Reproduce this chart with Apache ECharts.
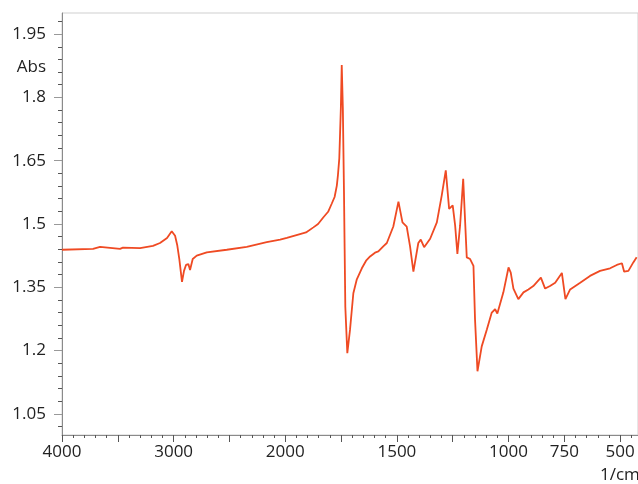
<!DOCTYPE html>
<html>
<head>
<meta charset="utf-8">
<script src="https://cdn.jsdelivr.net/npm/echarts@6/dist/echarts.min.js"></script>
<style>
    html, body { margin: 0; padding: 0; background: #fff; }
    #chart { width: 638px; height: 484px; }
</style>
</head>
<body>
<div id="chart"></div>
<script>
// IR spectrum, wavenumber (1/cm) vs absorbance
var wavenumbers = [4000, 3722, 3659, 3480, 3454, 3301, 3185, 3122, 3059, 3017, 2987, 2967, 2949, 2925, 2907, 2889, 2868, 2853, 2829, 2793,
    2703, 2524, 2345, 2166, 2046, 1993, 1934, 1907, 1874, 1853, 1829, 1808, 1792, 1779, 1769, 1764, 1758, 1751, 1747, 1742,
    1737, 1734, 1731, 1722, 1710, 1695, 1680, 1657, 1638, 1620, 1598, 1583, 1561, 1545, 1516, 1493, 1475, 1456, 1441, 1426,
    1404, 1393, 1378, 1351, 1321, 1299, 1281, 1266, 1250, 1239, 1229, 1217, 1203, 1187, 1172, 1157, 1150, 1139, 1120, 1097,
    1075, 1060, 1050, 1023, 1000, 990, 978, 956, 933, 911, 889, 855, 836, 814, 791, 761, 751, 745, 724, 679,
    635, 590, 545, 515, 492, 482, 463, 441, 426];
var absorbance = [1.439, 1.441, 1.446, 1.441, 1.444, 1.443, 1.448, 1.455, 1.467, 1.483, 1.472, 1.449, 1.417, 1.363, 1.389, 1.403, 1.405, 1.391, 1.417, 1.425,
    1.433, 1.439, 1.446, 1.457, 1.463, 1.467, 1.476, 1.480, 1.492, 1.500, 1.516, 1.529, 1.548, 1.564, 1.591, 1.616, 1.655, 1.774, 1.877, 1.774,
    1.578, 1.440, 1.304, 1.194, 1.249, 1.336, 1.368, 1.395, 1.413, 1.423, 1.432, 1.435, 1.447, 1.455, 1.494, 1.553, 1.504, 1.494, 1.447, 1.387,
    1.455, 1.463, 1.445, 1.465, 1.504, 1.568, 1.627, 1.536, 1.544, 1.496, 1.429, 1.496, 1.607, 1.421, 1.417, 1.401, 1.274, 1.151, 1.210, 1.250,
    1.290, 1.298, 1.288, 1.338, 1.397, 1.385, 1.347, 1.322, 1.338, 1.345, 1.353, 1.373, 1.347, 1.353, 1.361, 1.384, 1.345, 1.322, 1.345, 1.361,
    1.377, 1.389, 1.395, 1.403, 1.407, 1.387, 1.389, 1.409, 1.421];

var xLabels = [4000, 3000, 2000, 1500, 1000, 750, 500];
var xMajorTicks = [4000, 3500, 3000, 2500, 2000, 1750, 1500, 1250, 1000, 750, 500];
var yLabels = [1.05, 1.2, 1.35, 1.5, 1.65, 1.8, 1.95];
var yMinorTicks = [1.02, 1.05, 1.08, 1.11, 1.14, 1.17, 1.2, 1.23, 1.26, 1.29, 1.32, 1.35, 1.38, 1.41, 1.44, 1.47,
    1.5, 1.53, 1.56, 1.59, 1.62, 1.65, 1.68, 1.71, 1.74, 1.77, 1.8, 1.83, 1.86, 1.89, 1.92, 1.95, 1.98];

// the x axis is compressed 2:1 above 2000 1/cm
function pos(w) {
    return w >= 2000 ? (4000 - w) / 2 : 3000 - w;
}
function wn(p) {
    return p <= 1000 ? 4000 - 2 * p : 3000 - p;
}

var xMinor = [];
for (var p = 0; p <= 2550; p += 50) xMinor.push(p);

var font = { fontFamily: 'Open Sans', fontSize: 17, color: '#222' };

var option = {
    animation: false,
    grid: {
        left: 62,
        right: 0,
        top: 13,
        bottom: 49,
        show: true,
        borderColor: '#cfcfcf',
        borderWidth: 1
    },
    xAxis: [
        {
            type: 'value',
            min: 0,
            max: pos(420),
            position: 'bottom',
            axisLine: { show: true, lineStyle: { color: '#8a8a8a', width: 1 } },
            axisTick: { show: true, length: 3, customValues: xMinor, lineStyle: { color: '#555' } },
            axisLabel: { show: false },
            splitLine: { show: false }
        },
        {
            type: 'value',
            min: 0,
            max: pos(420),
            position: 'bottom',
            axisLine: { show: false },
            axisTick: { show: true, length: 7, customValues: xMajorTicks.map(pos), lineStyle: { color: '#555' } },
            axisLabel: Object.assign({
                customValues: xLabels.map(pos),
                margin: 9,
                formatter: function (v) { return String(Math.round(wn(v))); }
            }, font),
            splitLine: { show: false }
        }
    ],
    yAxis: [
        {
            type: 'value',
            min: 1.0,
            max: 2.0,
            position: 'left',
            axisLine: { show: true, lineStyle: { color: '#8a8a8a', width: 1 } },
            axisTick: { show: true, length: 4, customValues: yMinorTicks, lineStyle: { color: '#555' } },
            axisLabel: { show: false },
            splitLine: { show: false }
        },
        {
            type: 'value',
            min: 1.0,
            max: 2.0,
            position: 'left',
            axisLine: { show: false },
            axisTick: { show: true, length: 8, customValues: yLabels, lineStyle: { color: '#999' } },
            axisLabel: Object.assign({
                customValues: yLabels,
                margin: 16,
                formatter: function (v) { return String(+v.toFixed(2)); }
            }, font),
            splitLine: { show: false }
        }
    ],
    graphic: [
        {
            type: 'text',
            right: 638 - 46,
            top: 59,
            style: { text: 'Abs', fill: '#222', font: '17px "Open Sans"' }
        },
        {
            type: 'text',
            left: 600,
            top: 467,
            style: { text: '1/cm', fill: '#222', font: '17px "Open Sans"' }
        }
    ],
    series: [
        {
            type: 'line',
            xAxisIndex: 0,
            yAxisIndex: 0,
            data: wavenumbers.map(function (w, i) { return [pos(w), absorbance[i]]; }),
            showSymbol: false,
            smooth: false,
            lineStyle: { color: '#ef4a23', width: 1.8 },
            clip: true
        }
    ]
};

echarts.init(document.getElementById('chart'), null, { renderer: 'canvas' }).setOption(option);
</script>
</body>
</html>
